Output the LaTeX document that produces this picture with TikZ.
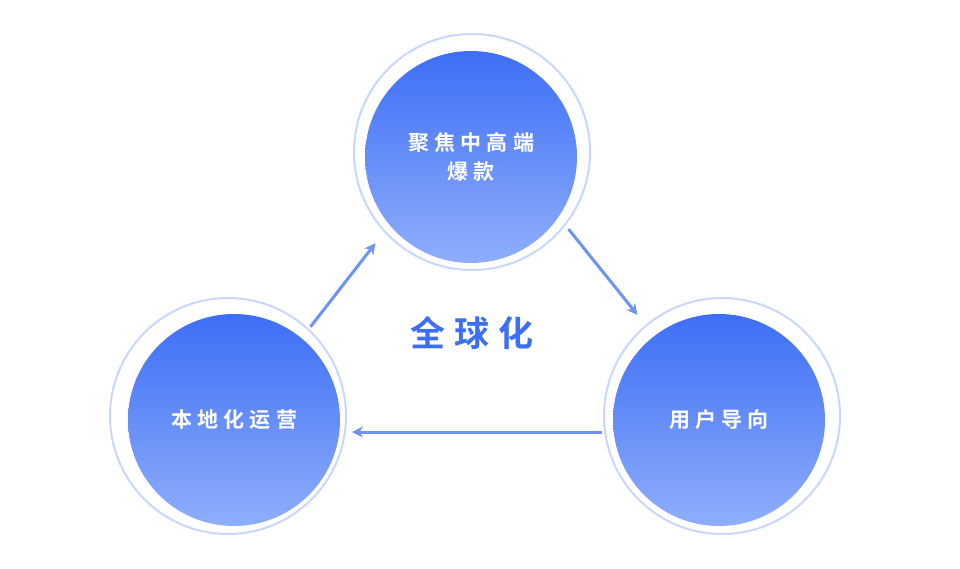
\documentclass[tikz,border=0pt]{standalone}
\usepackage{fontspec}
\newfontfamily\cjk[LetterSpace=25]{Noto Sans CJK SC Bold}
\usetikzlibrary{positioning,arrows.meta}
\definecolor{blueA}{HTML}{3D6EF6}
\definecolor{blueB}{HTML}{8FAEFB}
\definecolor{ringc}{HTML}{C9D7FD}
\tikzset{ball/.style={circle, minimum size=212pt, top color=blueA, bottom color=blueB, text=white, align=center, font=\cjk\fontsize{21pt}{29pt}\selectfont}}
\tikzset{ring/.style={draw=ringc, line width=2pt, fill=white}}
\tikzset{arr/.style={draw=blueA!75, line width=3pt, -{Stealth[length=11pt,width=11pt]}, shorten <=4pt, shorten >=4pt}}
\begin{document}
\begin{tikzpicture}[x=1pt,y=-1pt]
  \useasboundingbox (0,0) rectangle (960,568);
  % outer rings
  \draw[ring] (472,152) circle (118);
  \draw[ring] (228,416) circle (118);
  \draw[ring] (722,416) circle (118);
  % balls
  \node[ball] (top) at (471,157) {聚焦中高端\\爆款};
  \node[ball] (left) at (234,420) {本地化运营};
  \node[ball] (right) at (719,420) {用户导向};
  \node[text=blueA, font=\cjk\fontsize{35pt}{40pt}\selectfont] (core) at (472,333) {全球化};
  % connectors
  \coordinate (l1) at (308,330);
  \coordinate (t1) at (378,240);
  \coordinate (t2) at (566,226);
  \coordinate (r1) at (640,318);
  \coordinate (r2) at (606,432);
  \coordinate (l2) at (348,432);
  \draw[arr] (l1) -- (t1);
  \draw[arr] (t2) -- (r1);
  \draw[arr] (r2) -- (l2);
\end{tikzpicture}
\end{document}
